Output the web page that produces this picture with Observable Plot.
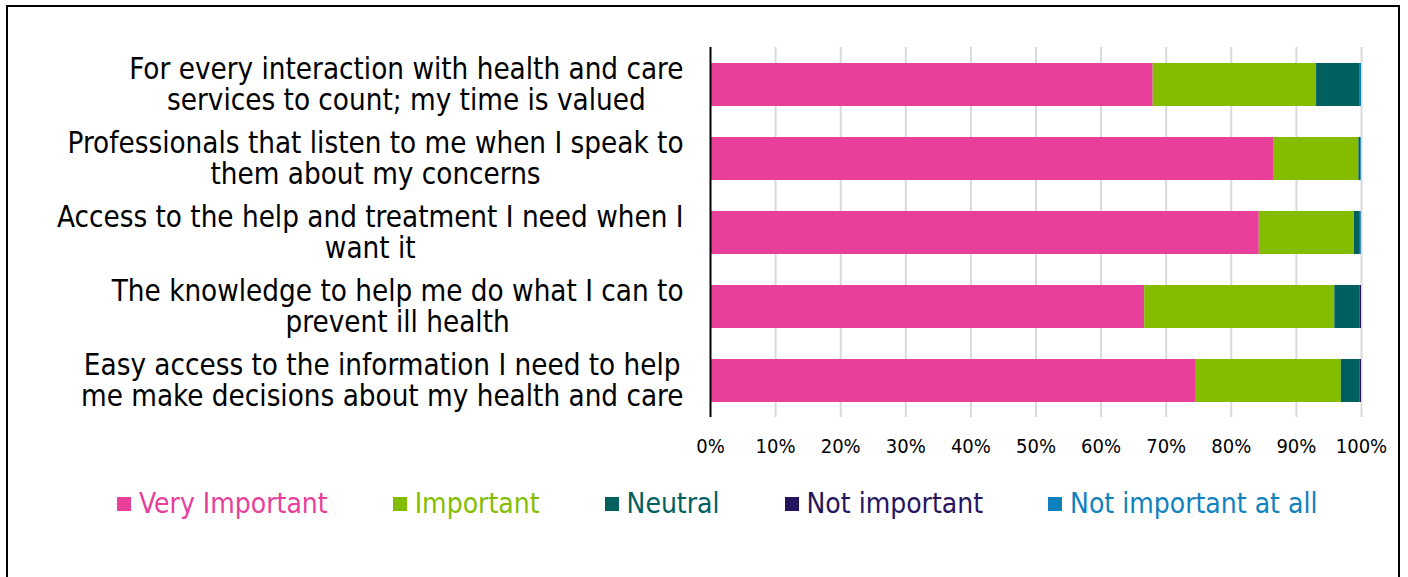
<!DOCTYPE html>
<html>
<head>
<meta charset="utf-8">
<script src="https://cdn.jsdelivr.net/npm/d3@7"></script>
<script src="https://cdn.jsdelivr.net/npm/@observablehq/plot@0.6"></script>
<style>
  html, body { margin: 0; padding: 0; background: #fff; overflow: hidden; }
  #wrap { position: relative; width: 1408px; height: 577px; font-family: "DejaVu Sans Condensed", "DejaVu Sans", sans-serif; }
  #frame { position: absolute; left: 6px; top: 5px; width: 1394px; height: 620px; border: 2px solid #000; box-sizing: border-box; }
  #chart { position: absolute; left: 0; top: 0; }
  #legend { position: absolute; left: 117px; top: 488px; display: flex; gap: 65px; font-size: 28px; line-height: 32px; white-space: nowrap; }
  .item { display: flex; align-items: center; gap: 8px; }
  .sw { width: 14px; height: 14px; display: inline-block; }
</style>
</head>
<body>
<div id="wrap">
  <div id="frame"></div>
  <div id="chart"></div>
  <div id="legend"></div>
</div>
<script>
const categories = [
  "For every interaction with health and care\nservices to count; my time is valued",
  "Professionals that listen to me when I speak to\nthem about my concerns",
  "Access to the help and treatment I need when I\nwant it",
  "The knowledge to help me do what I can to\nprevent ill health",
  "Easy access to the information I need to help\nme make decisions about my health and care"
];
const series = ["Very Important", "Important", "Neutral", "Not important", "Not important at all"];
const colors = ["#E8409A", "#84BD00", "#00605F", "#26145F", "#0F82BE"];
const veryImportant = [68.0, 86.6, 84.3, 66.7, 74.5];
const important     = [25.1, 13.0, 14.6, 29.2, 22.4];
const neutral       = [6.6, 0.3, 0.9, 3.9, 2.9];
const notImportant  = [0.0, 0.0, 0.1, 0.2, 0.2];
const notAtAll      = [0.3, 0.1, 0.1, 0.0, 0.0];
const xTicks = [0, 10, 20, 30, 40, 50, 60, 70, 80, 90, 100];

const seriesValues = [veryImportant, important, neutral, notImportant, notAtAll];
const data = [];
categories.forEach((c, i) => {
  series.forEach((s, j) => data.push({cat: c, series: s, value: seriesValues[j][i]}));
});

const FONT = '"DejaVu Sans Condensed", "DejaVu Sans", sans-serif';
const LABEL_SIZE = 29.3;
const ctx = document.createElement("canvas").getContext("2d");
ctx.font = `${LABEL_SIZE}px ${FONT}`;
const widest = (label) => Math.max(...label.split("\n").map(l => ctx.measureText(l).width));

const labelMarks = categories.map(c => Plot.text([c], {
  y: d => d,
  text: d => d,
  frameAnchor: "left",
  textAnchor: "middle",
  lineAnchor: "middle",
  lineHeight: 31 / LABEL_SIZE,
  fontSize: LABEL_SIZE,
  fill: "#000",
  dx: -(27 + widest(c) / 2)
}));

const chart = Plot.plot({
  width: 1408,
  height: 480,
  marginTop: 47,
  marginBottom: 63,
  marginLeft: 710,
  marginRight: 47,
  style: {fontFamily: FONT, background: "transparent"},
  x: {domain: [0, 100], ticks: xTicks, tickFormat: d => d + "%"},
  y: {domain: categories, paddingInner: 0.42, paddingOuter: 0.21, axis: null},
  color: {domain: series, range: colors},
  marks: [
    Plot.ruleX(xTicks.slice(1), {stroke: "#D9D9D9", strokeWidth: 2}),
    Plot.barX(data, Plot.stackX({x: "value", y: "cat", fill: "series"})),
    Plot.ruleX([0], {stroke: "#000", strokeWidth: 2}),
    Plot.axisX({ticks: xTicks, tickFormat: d => d + "%", tickSize: 0, tickPadding: 21, fontSize: 20, fill: "#000", label: null}),
    ...labelMarks
  ]
});
document.getElementById("chart").appendChild(chart);

const legend = document.getElementById("legend");
series.forEach((s, j) => {
  const item = document.createElement("div");
  item.className = "item";
  item.innerHTML = `<span class="sw" style="background:${colors[j]}"></span><span style="color:${colors[j]}">${s}</span>`;
  legend.appendChild(item);
});
</script>
</body>
</html>
